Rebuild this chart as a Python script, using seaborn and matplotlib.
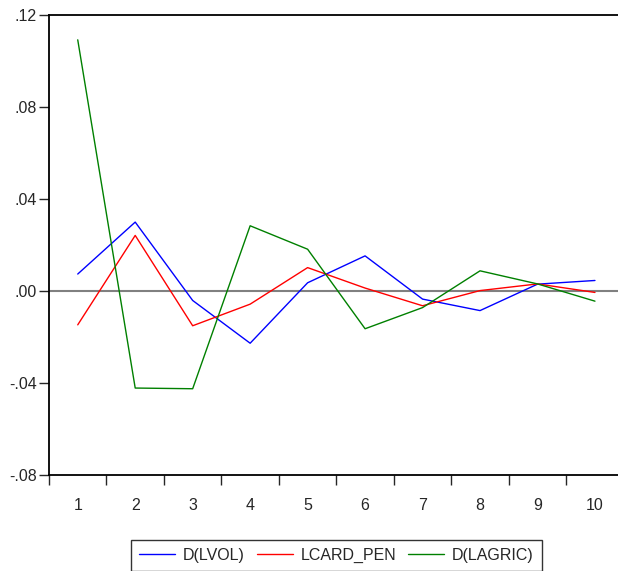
import numpy as np
import pandas as pd
import seaborn as sns
import matplotlib.pyplot as plt

periods = list(range(1, 11))
d_lvol = [0.0073, 0.0299, -0.0042, -0.0228, 0.0035, 0.0152, -0.0036, -0.0086, 0.0029, 0.0045]
lcard_pen = [-0.0148, 0.0241, -0.0152, -0.0058, 0.0101, 0.0012, -0.0065, 0.0001, 0.0030, -0.0007]
d_lagric = [0.1092, -0.0423, -0.0426, 0.0283, 0.0181, -0.0165, -0.0073, 0.0087, 0.0030, -0.0045]
series_names = ['D(LVOL)', 'LCARD_PEN', 'D(LAGRIC)']
colors = {'D(LVOL)': '#0000ff', 'LCARD_PEN': '#ff0000', 'D(LAGRIC)': '#008000'}
y_ticks = [-0.08, -0.04, 0.0, 0.04, 0.08, 0.12]
y_labels = ['-.08', '-.04', '.00', '.04', '.08', '.12']

df = pd.DataFrame({
    'period': periods * 3,
    'value': d_lvol + lcard_pen + d_lagric,
    'series': np.repeat(series_names, len(periods)),
})

sns.set_style('ticks')
plt.rcParams['font.family'] = ['Liberation Sans', 'DejaVu Sans']

fig = plt.figure(figsize=(6.18, 5.71), dpi=100)
# axes runs past the right edge, as in the reference
ax = fig.add_axes([49 / 618, 1 - 474.7 / 571, 574.7 / 618, (474.7 - 15) / 571])

ax.axhline(0, color='#808080', lw=1.5, zorder=1)
sns.lineplot(data=df, x='period', y='value', hue='series', hue_order=series_names,
             palette=colors, lw=1.0, ax=ax, legend=False, zorder=3)

ax.set_xlim(0.5, 10.5)
ax.set_ylim(-0.08, 0.12)
ax.set_yticks(y_ticks)
ax.set_yticklabels(y_labels, fontsize=11.5)
ax.set_xticks(np.arange(0.5, 10.5, 1.0))
ax.set_xticklabels([])
ax.set_xticks(periods, minor=True)
ax.set_xticklabels([str(p) for p in periods], minor=True, fontsize=11.5)
ax.tick_params(axis='x', which='minor', length=0, pad=17)
ax.tick_params(axis='x', which='major', length=7, width=1, direction='out')
ax.tick_params(axis='y', length=7, width=1, direction='out', pad=2)
ax.set_xlabel('')
ax.set_ylabel('')
ax.spines['right'].set_visible(False)
for s in ['left', 'top', 'bottom']:
    ax.spines[s].set_linewidth(1.3)
    ax.spines[s].set_color('black')

handles = [plt.Line2D([], [], color=colors[n], lw=1.0) for n in series_names]
leg = fig.legend(handles, series_names, loc='upper center', bbox_to_anchor=(0.5445, 0.0543),
                 ncol=3, fontsize=11.5, frameon=True, fancybox=False, edgecolor='black',
                 handlelength=2.25, handletextpad=0.5, columnspacing=0.75, borderpad=0.5,
                 borderaxespad=0)
leg.get_frame().set_linewidth(1.0)

fig.savefig('out.png', dpi=100)
